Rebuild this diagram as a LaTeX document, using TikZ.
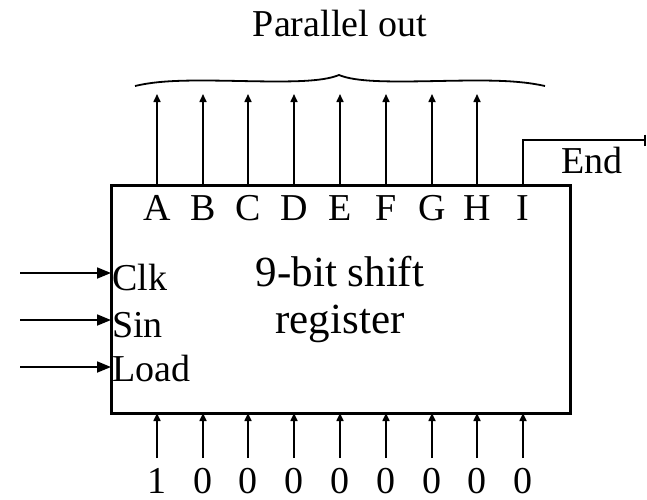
\documentclass[tikz,border=0pt]{standalone}
\usepackage{fontspec}
\setmainfont{Liberation Serif}
\usetikzlibrary{arrows.meta}
\begin{document}
\begin{tikzpicture}[x=1pt,y=-1pt,
  lbl/.style={font=\fontsize{38}{44}\selectfont, inner sep=0pt, anchor=base},
  bigtext/.style={font=\fontsize{43}{50}\selectfont, inner sep=0pt, anchor=base},
  bigarrow/.style={line width=1.8pt, -{Triangle[length=14pt,width=11pt]}},
  smallarrow/.style={line width=1.6pt, -{Triangle[length=8pt,width=7pt]}},
  regbox/.style={draw, line width=3pt, inner sep=0pt, minimum width=459pt, minimum height=228pt}]
\useasboundingbox (0,0) rectangle (647,499);
% register box
\node[regbox] (reg) at (340.5,299) {};
\node[bigtext] (title1) at (340,286) {9-bit shift};
\node[bigtext] (title2) at (340,333) {register};
% inputs on the left
\node[lbl, anchor=base west] (clk) at (112,290) {Clk};
\node[lbl, anchor=base west] (sin) at (112,337) {Sin};
\node[lbl, anchor=base west] (load) at (112,381) {Load};
\coordinate (clkin) at (20,273);
\coordinate (sinin) at (20,320);
\coordinate (loadin) at (20,367);
\coordinate (clkend) at (111,273);
\coordinate (sinend) at (111,320);
\coordinate (loadend) at (111,367);
\draw[bigarrow] (clkin) -- (clkend);
\draw[bigarrow] (sinin) -- (sinend);
\draw[bigarrow] (loadin) -- (loadend);
% outputs and parallel inputs
\foreach \l/\d/\x [count=\i] in {A/1/157,B/0/203,C/0/248,D/0/294,E/0/340,F/0/386,G/0/432,H/0/477,I/0/523}{
  \node[lbl] (out\i) at (\x,220) {\l};
  \node[lbl, text depth=0pt] (in\i) at (\x,493) {\d};
  \coordinate (bt\i) at (\x,458);
  \coordinate (bb\i) at (\x,413);
  \draw[smallarrow] (bt\i) -- (bb\i);
}
\foreach \x [count=\i] in {157,203,248,294,340,386,432,477}{
  \coordinate (tb\i) at (\x,185);
  \coordinate (tt\i) at (\x,94);
  \draw[smallarrow] (tb\i) -- (tt\i);
}
% End output
\coordinate (endstart) at (523,185);
\coordinate (endcorner) at (523,140);
\coordinate (endtip) at (646,140);
\draw[line width=1.6pt, -{Bar[width=11pt]}] (endstart) -- (endcorner) -- (endtip);
\node[lbl] (endlbl) at (592,173) {End};
% brace
\draw[line width=1.8pt] (135,86) .. controls (160,80) and (190,80) .. (240,81)
  .. controls (290,82) and (322,82) .. (339,75)
  .. controls (356,82) and (388,82) .. (438,81)
  .. controls (488,80) and (518,80) .. (545,86);
\node[lbl] (parout) at (340,36) {Parallel out};
\end{tikzpicture}
\end{document}
